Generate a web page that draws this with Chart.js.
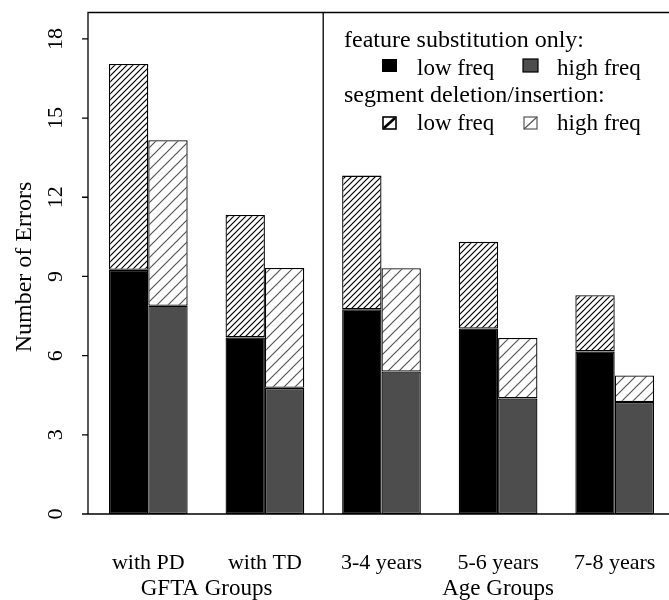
<!DOCTYPE html>
<html>
<head>
<meta charset="utf-8">
<script src="https://cdn.jsdelivr.net/npm/chart.js@4.4.1/dist/chart.umd.min.js"></script>
<style>
  html, body { margin: 0; padding: 0; background: #fff; overflow: hidden; }
  #wrap { width: 680px; height: 600px; }
</style>
</head>
<body>
<div id="wrap"><canvas id="myChart" width="680" height="600"></canvas></div>
<script>
const groups = ["with PD", "with TD", "3-4 years", "5-6 years", "7-8 years"];
const group_titles = ["GFTA Groups", "Age Groups"];
// feature substitution only
const sub_low  = [9.25, 6.69, 7.76, 7.03, 6.16];
const sub_high = [7.89, 4.78, 5.40, 4.38, 4.24];
// segment deletion/insertion (stacked on top)
const seg_low  = [7.80, 4.64, 5.06, 3.28, 2.13];
const seg_high = [6.27, 4.54, 3.91, 2.29, 1.01];
const y_ticks = [0, 3, 6, 9, 12, 15, 18];

const SERIF = "'Liberation Serif'";

function makeHatch(gap, color, lw) {
  const c = document.createElement("canvas");
  c.width = gap;
  c.height = gap;
  const g = c.getContext("2d");
  g.fillStyle = "#fff";
  g.fillRect(0, 0, gap, gap);
  g.strokeStyle = color;
  g.lineWidth = lw;
  g.beginPath();
  g.moveTo(-1, gap + 1); g.lineTo(gap + 1, -1);
  g.moveTo(-1, 1); g.lineTo(1, -1);
  g.moveTo(gap - 1, gap + 1); g.lineTo(gap + 1, gap - 1);
  g.stroke();
  return g.createPattern(c, "repeat");
}

const dense = makeHatch(6, "#000", 1.2);
const sparse = makeHatch(11, "#555", 1.2);

const frame = {
  id: "frame",
  afterDraw(chart) {
    const ctx = chart.ctx;
    const area = chart.chartArea;
    const x = chart.scales.x, y = chart.scales.y;
    const left = 88, top = area.top, bottom = y.getPixelForValue(0);
    ctx.save();
    ctx.strokeStyle = "#000";
    ctx.lineWidth = 1.3;
    ctx.beginPath();
    ctx.moveTo(chart.width, top); ctx.lineTo(left, top); ctx.lineTo(left, bottom);
    ctx.moveTo(left - 6, bottom); ctx.lineTo(chart.width, bottom);
    const mid = (x.getPixelForValue(1) + x.getPixelForValue(2)) / 2;
    ctx.moveTo(mid, top); ctx.lineTo(mid, bottom);
    y_ticks.forEach(function (v) {
      const py = y.getPixelForValue(v);
      ctx.moveTo(left - 6, py); ctx.lineTo(left, py);
    });
    ctx.stroke();

    ctx.fillStyle = "#000";
    ctx.textBaseline = "alphabetic";
    ctx.textAlign = "center";
    // y tick labels, rotated
    ctx.font = "22px " + SERIF;
    y_ticks.forEach(function (v) {
      ctx.save();
      ctx.translate(61.5, y.getPixelForValue(v));
      ctx.rotate(-Math.PI / 2);
      ctx.fillText(String(v), 0, 0);
      ctx.restore();
    });
    ctx.font = "24px " + SERIF;
    ctx.save();
    ctx.translate(30.5, 267);
    ctx.rotate(-Math.PI / 2);
    ctx.fillText("Number of Errors", 0, 0);
    ctx.restore();

    // category labels and group titles
    ctx.font = "22px " + SERIF;
    groups.forEach(function (g, i) {
      ctx.fillText(g, x.getPixelForValue(i), 569);
    });
    ctx.font = "23px " + SERIF;
    ctx.fillText(group_titles[0], (x.getPixelForValue(0) + x.getPixelForValue(1)) / 2, 595);
    ctx.fillText(group_titles[1], x.getPixelForValue(3), 595);

    // legend
    ctx.textAlign = "left";
    ctx.font = "24px " + SERIF;
    ctx.fillText("feature substitution only:", 344, 47);
    ctx.fillText("segment deletion/insertion:", 344, 102);
    ctx.font = "23px " + SERIF;
    ctx.fillText("low freq", 417, 75);
    ctx.fillText("high freq", 557, 75);
    ctx.fillText("low freq", 417, 130);
    ctx.fillText("high freq", 557, 130);

    ctx.fillStyle = "#000";
    ctx.fillRect(382, 59, 15, 13);
    ctx.fillStyle = "#4d4d4d";
    ctx.fillRect(523, 59, 15, 13);
    ctx.strokeStyle = "#000";
    ctx.lineWidth = 1.2;
    ctx.strokeRect(523, 59, 15, 13);

    ctx.lineWidth = 1.6;
    ctx.strokeRect(383, 117, 13, 12);
    ctx.lineWidth = 2.6;
    ctx.beginPath();
    ctx.moveTo(384, 128); ctx.lineTo(395, 118);
    ctx.stroke();
    ctx.strokeStyle = "#555";
    ctx.lineWidth = 1.2;
    ctx.strokeRect(524, 117, 13, 12);
    ctx.beginPath();
    ctx.moveTo(524, 129); ctx.lineTo(537, 117);
    ctx.stroke();
    ctx.restore();
  }
};

const ctx = document.getElementById("myChart").getContext("2d");

const myChart = new Chart(ctx, {
  type: "bar",
  data: {
    labels: groups,
    datasets: [
      { label: "feature substitution only: low freq", data: sub_low, stack: "low", backgroundColor: "#000" },
      { label: "segment deletion/insertion: low freq", data: seg_low, stack: "low", backgroundColor: dense },
      { label: "feature substitution only: high freq", data: sub_high, stack: "high", backgroundColor: "#4d4d4d" },
      { label: "segment deletion/insertion: high freq", data: seg_high, stack: "high", backgroundColor: sparse },
    ],
  },
  options: {
    responsive: false,
    animation: false,
    layout: { padding: { left: 90, right: 7, top: 12.5, bottom: 86 } },
    datasets: {
      bar: {
        categoryPercentage: 0.675,
        barPercentage: 1,
        borderColor: "#000",
        borderWidth: 1.3,
        borderSkipped: false,
      },
    },
    plugins: {
      legend: { display: false },
      tooltip: { enabled: false },
    },
    scales: {
      x: { display: false, offset: true, grid: { display: false } },
      y: { display: false, stacked: true, min: 0, max: 19 },
    },
  },
  plugins: [frame],
});
</script>
</body>
</html>
